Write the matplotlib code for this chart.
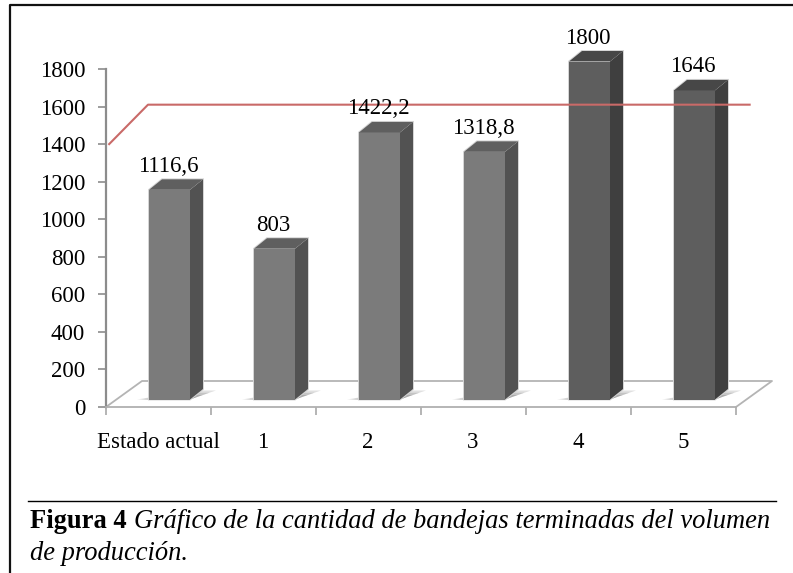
import matplotlib
matplotlib.use("Agg")
import matplotlib.pyplot as plt
from matplotlib.patches import Polygon

plt.rcParams["font.family"] = "Liberation Serif"

categories = ["Estado actual", "1", "2", "3", "4", "5"]
values = [1116.6, 803, 1422.2, 1318.8, 1800, 1646]
value_labels = ["1116,6", "803", "1422,2", "1318,8", "1800", "1646"]
y_ticks = [0, 200, 400, 600, 800, 1000, 1200, 1400, 1600, 1800]
line_x = [-0.47, -0.1, 5.63]
line_y = [1400, 1610, 1610]

W, H = 793, 573
fig = plt.figure(figsize=(W / 100, H / 100), dpi=100)
# axes placed by pixel: x 106-736, y 69-407
ax = fig.add_axes([106 / W, 1 - 407 / H, 630 / W, 338 / H])
ax.set_xlim(-0.5, 5.5)
ax.set_ylim(0, 1800)

px = 6 / 630        # one pixel in category units
py = 1800 / 338     # one pixel in value units
dx, dy = 13 * px, 10.5 * py     # bar depth
fx, fy = 36 * px, 26 * py       # depth of the floor

# floor
ax.plot([-0.5, -0.5 + fx, 5.5 + fx, 5.5], [0, fy, fy, 0], color="#b4b4b4", lw=1.3, clip_on=False, zorder=1)

for i, v in enumerate(values):
    dark = i >= 4
    front, side, top = ("#5e5e5e", "#3f3f3f", "#474747") if dark else ("#7b7b7b", "#525252", "#5f5f5f")
    l = i - 0.5 + 43 * px
    r = l + 41 * px
    b = 7.5 * py
    t = b + v
    # shadow on the floor, darker near the bar
    for k in [1.0, 0.75, 0.5, 0.25]:
        ax.add_patch(Polygon([(l - 12 * k * px, b), (r, b), (r + 26 * k * px, b + 9 * k * py), (r, b + 9 * k * py)],
                             fc="black", alpha=0.12, ec="none", clip_on=False, zorder=2))
    # pale halo around the bar
    ax.add_patch(Polygon([(l, b), (r, b), (r + dx, b + dy), (r + dx, t + dy), (l + dx, t + dy), (l, t)],
                         fc="none", ec="#d4d4d4", lw=1.4, clip_on=False, zorder=3))
    ax.add_patch(Polygon([(l, b), (r, b), (r, t), (l, t)], fc=front, ec="none", clip_on=False, zorder=3))
    ax.add_patch(Polygon([(r, b), (r + dx, b + dy), (r + dx, t + dy), (r, t)], fc=side, ec="none", clip_on=False, zorder=3))
    ax.add_patch(Polygon([(l, t), (r, t), (r + dx, t + dy), (l + dx, t + dy)], fc=top, ec="none", clip_on=False, zorder=3))

ax.plot(line_x, line_y, color="#c96a68", lw=1.5, clip_on=False, zorder=4)

for i, v in enumerate(values):
    l = i - 0.5 + 43 * px
    ax.text(l + 19 * px, v + 7.5 * py + 10.5 * py + 2.5 * py, value_labels[i], ha="center", va="bottom",
            fontsize=16.5, color="black", zorder=5)

for s in ["top", "right"]:
    ax.spines[s].set_visible(False)
ax.spines["left"].set_color("#8c8c8c")
ax.spines["left"].set_linewidth(1.6)
ax.spines["bottom"].set_color("#b0b0b0")
ax.spines["bottom"].set_linewidth(1.3)
ax.patch.set_visible(False)

ax.set_yticks(y_ticks)
ax.tick_params(axis="y", length=6, width=1.2, color="#8c8c8c", labelsize=16.5, pad=9)
ax.set_xticks([i - 0.5 for i in range(7)])
ax.set_xticklabels([])
ax.tick_params(axis="x", length=6, width=1.2, color="#a8a8a8")
ax.set_xticks([i - 0.005 for i in range(6)], minor=True)
ax.set_xticklabels(categories, minor=True, fontsize=16.5)
ax.tick_params(axis="x", which="minor", length=0, pad=18)

# page frame and caption
fig.add_artist(plt.Line2D([9.5 / W, 9.5 / W, 1], [0, 1 - 4.5 / H, 1 - 4.5 / H], color="#111111", lw=1.6))
fig.add_artist(plt.Line2D([28 / W, 776 / W], [1 - 501 / H, 1 - 501 / H], color="black", lw=1))
t1 = fig.text(30 / W, 1 - 528 / H, "Figura 4", fontsize=19.1, fontweight="bold", va="baseline")
fig.canvas.draw()
bb = t1.get_window_extent()
fig.text((bb.x1 + 7) / W, 1 - 528 / H, "Gráfico de la cantidad de bandejas terminadas del volumen",
         fontsize=19.1, fontstyle="italic", va="baseline")
fig.text(30 / W, 1 - 560 / H, "de producción.", fontsize=19.1, fontstyle="italic", va="baseline")

fig.savefig("out.png", dpi=100)
